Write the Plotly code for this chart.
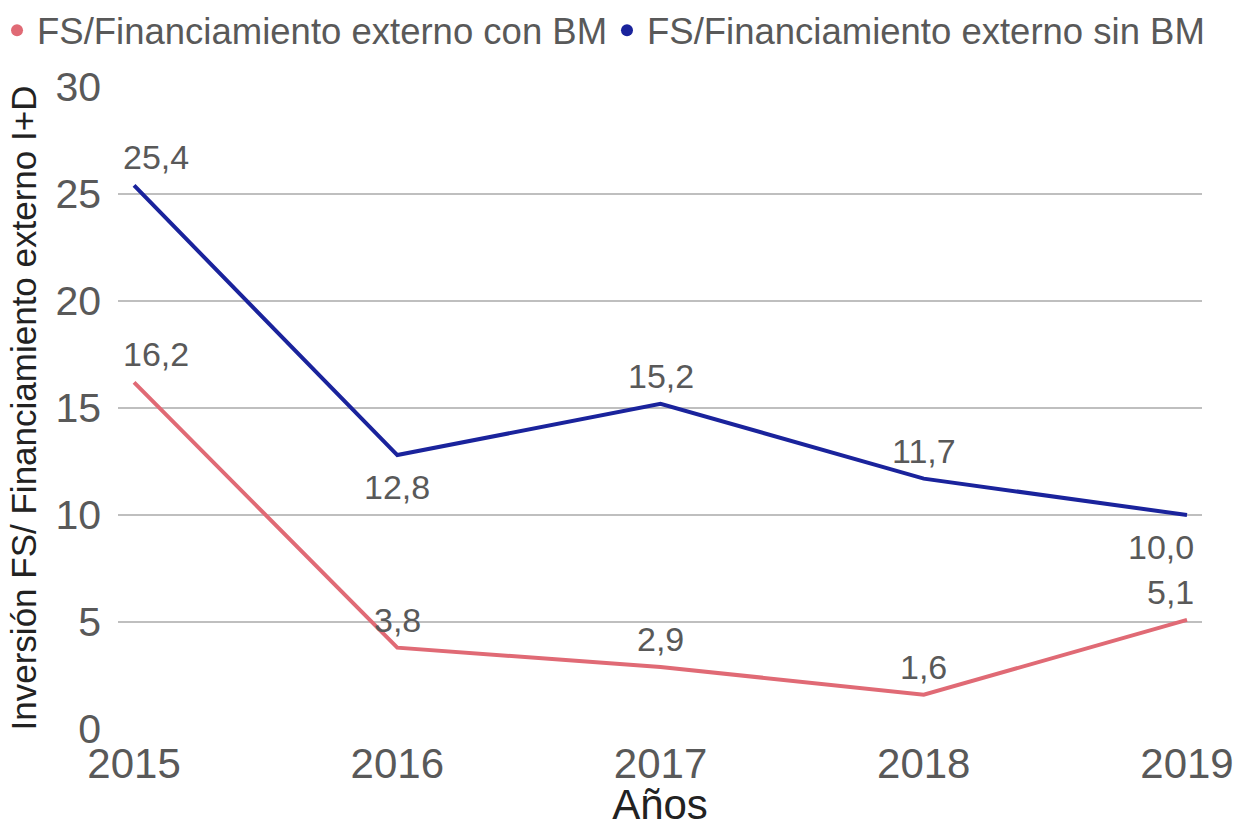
import plotly.graph_objects as go

years = [2015, 2016, 2017, 2018, 2019]
con_bm = [16.2, 3.8, 2.9, 1.6, 5.1]
sin_bm = [25.4, 12.8, 15.2, 11.7, 10.0]
series_names = ["FS/Financiamiento externo con BM", "FS/Financiamiento externo sin BM"]
y_ticks = [0, 5, 10, 15, 20, 25, 30]

# label placement (style only)
pos_con = ["above", "above", "above", "above", "above"]
pos_sin = ["above", "below", "above", "above", "below"]

RED = "#E06A75"
BLUE = "#1A239C"
FONT = "Liberation Sans, Arial, sans-serif"
GREY = "#595959"

fig = go.Figure()
for name, vals, col in [(series_names[0], con_bm, RED), (series_names[1], sin_bm, BLUE)]:
    fig.add_trace(go.Scatter(x=years, y=vals, mode="lines", line=dict(color=col, width=4),
                             showlegend=False, hoverinfo="skip"))
for name, col, lg in [(series_names[0], RED, "legend"), (series_names[1], BLUE, "legend2")]:
    fig.add_trace(go.Scatter(x=[None], y=[None], mode="markers", name=name, legend=lg,
                             marker=dict(color=col, size=12, symbol="circle")))

annotations = []
for vals, posl in [(con_bm, pos_con), (sin_bm, pos_sin)]:
    n = len(vals)
    for i, (x, v, p) in enumerate(zip(years, vals, posl)):
        txt = f"{v:.1f}".replace(".", ",")
        if i == 0:
            xa, xs = "left", -13
        elif i == n - 1:
            xa, xs = "right", 9
        else:
            xa, xs = "center", 0
        if p == "above":
            ya, ys = "bottom", 7
        else:
            ya, ys = "top", -11
        annotations.append(dict(x=x, y=v, xref="x", yref="y", text=txt, showarrow=False,
                                xanchor=xa, yanchor=ya, xshift=xs, yshift=ys,
                                font=dict(family=FONT, size=34, color=GREY)))

legend_style = dict(orientation="h", xref="paper", yref="paper", y=1.1355,
                    xanchor="left", yanchor="top", font=dict(family=FONT, size=36.5, color=GREY),
                    bgcolor="rgba(0,0,0,0)", itemsizing="trace")

fig.update_layout(
    width=1236, height=828,
    margin=dict(l=118, r=34, t=87, b=99, autoexpand=False),
    paper_bgcolor="white", plot_bgcolor="white",
    font=dict(family=FONT, color=GREY),
    annotations=annotations,
    legend=dict(x=-0.1116, **legend_style),
    legend2=dict(x=0.4511, **legend_style),
    xaxis=dict(range=[2014.939, 2019.057], tickvals=years, ticktext=[str(y) for y in years],
               showgrid=False, zeroline=False, showline=False, ticks="",
               tickfont=dict(family=FONT, size=42, color=GREY), ticklabelstandoff=6,
               title=dict(text="Años", font=dict(family=FONT, size=42, color="#222222"), standoff=12)),
    yaxis=dict(range=[0, 30], tickvals=y_ticks, showgrid=True, gridcolor="#BFBFBF", gridwidth=1.5,
               zeroline=False, showline=False, ticks="",
               tickfont=dict(family=FONT, size=41, color=GREY), ticklabelstandoff=16,
               title=dict(text="Inversión FS/ Financiamiento externo I+D",
                          font=dict(family=FONT, size=35, color="#222222"), standoff=8)),
)

fig.write_html("out.html", config={"displayModeBar": False},
               post_script="document.body.style.margin='0';")
